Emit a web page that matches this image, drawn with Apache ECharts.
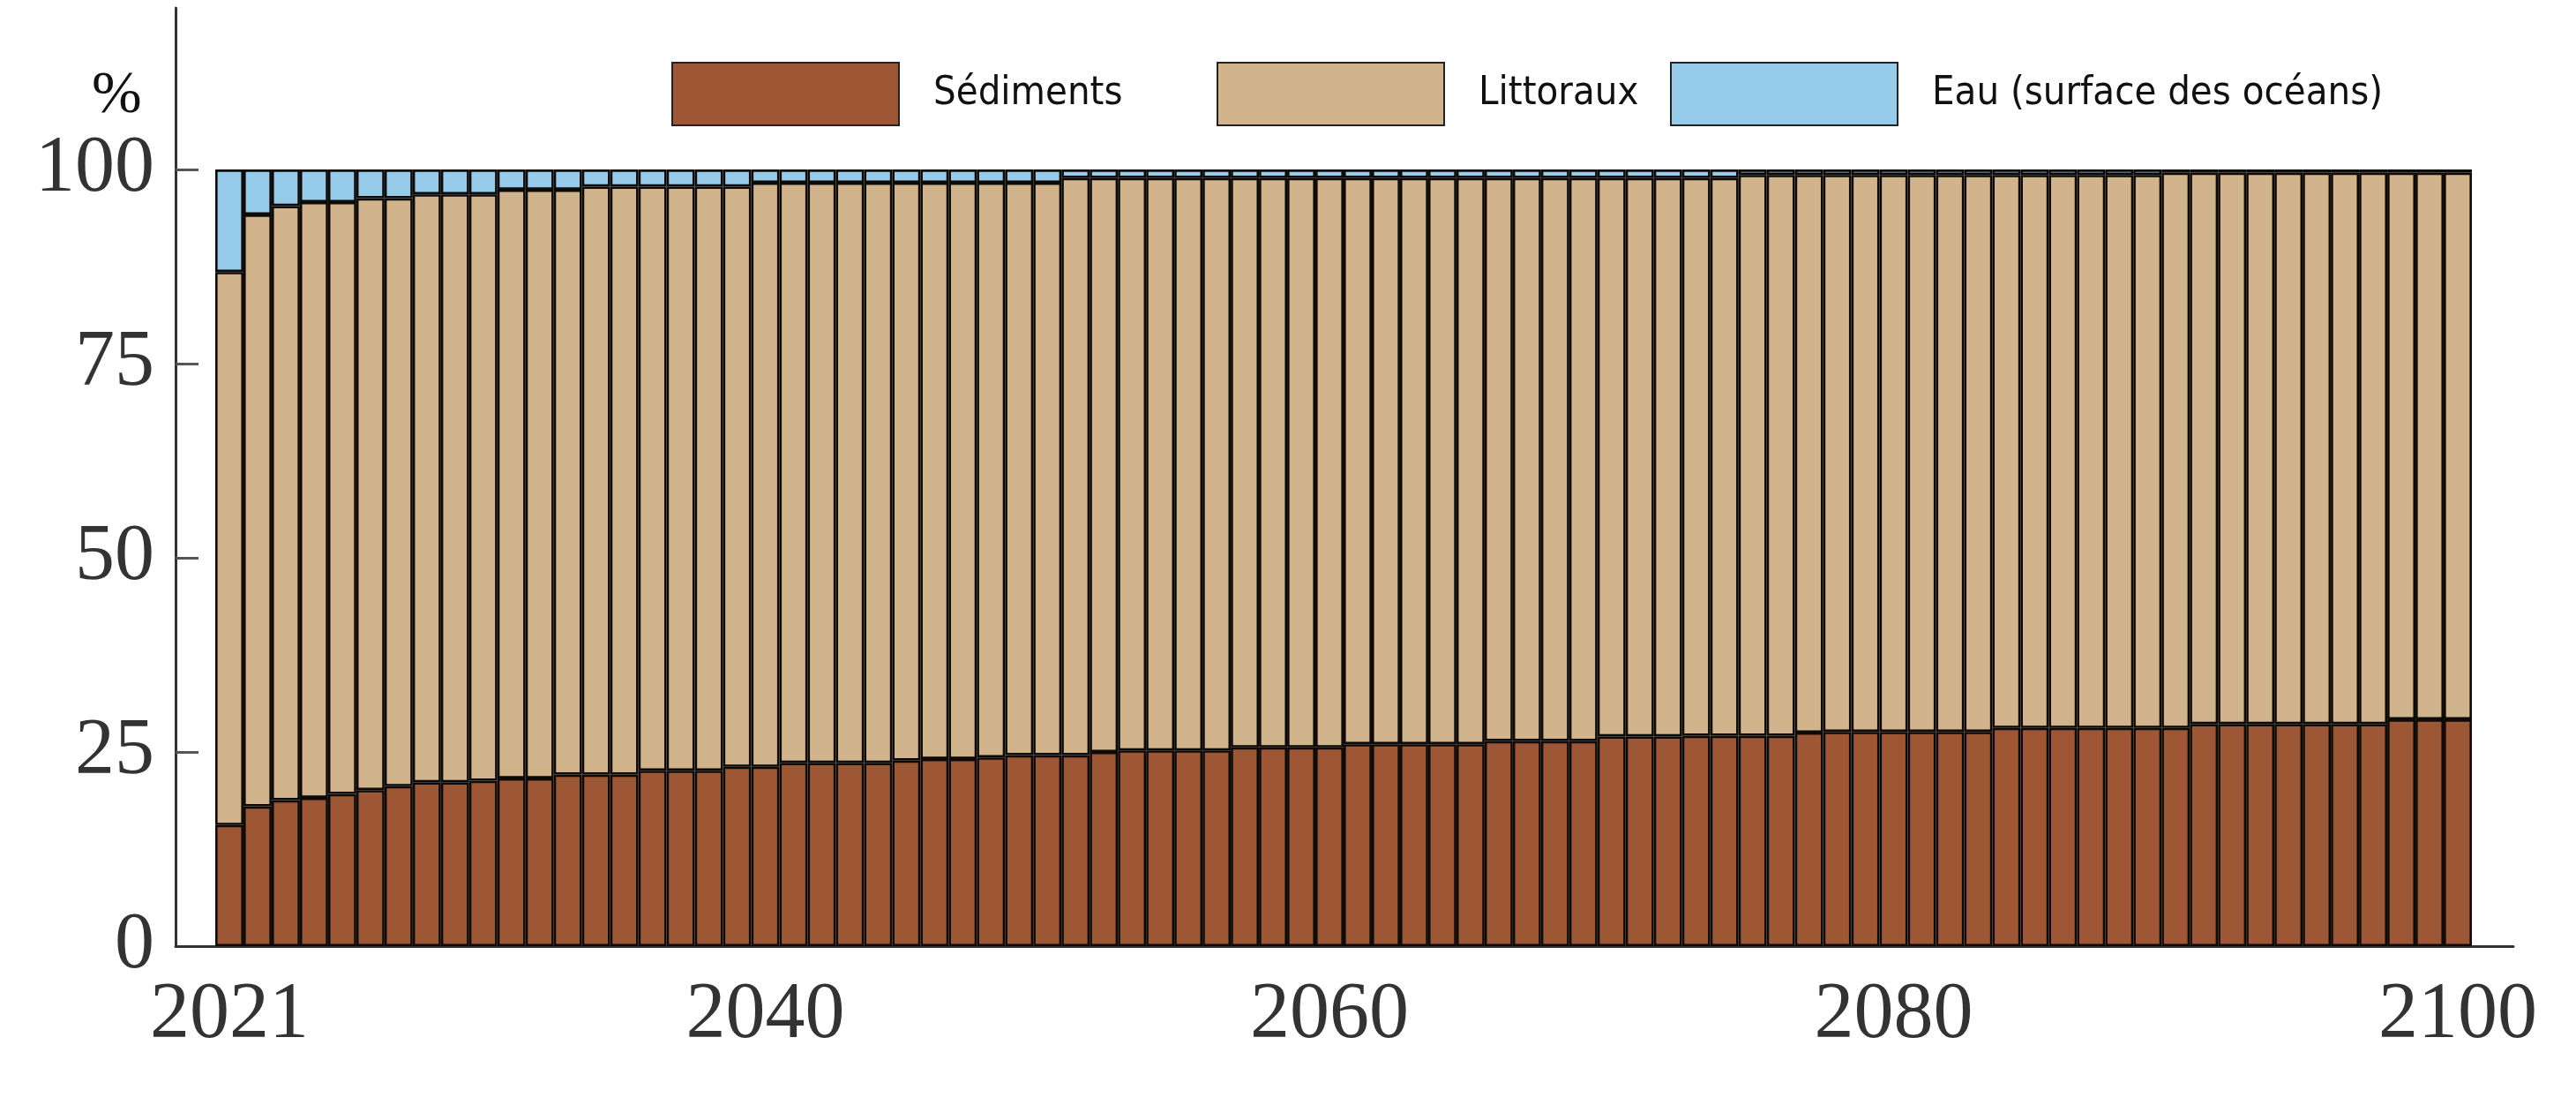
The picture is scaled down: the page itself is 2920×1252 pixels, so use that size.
<!DOCTYPE html>
<html>
<head>
<meta charset="utf-8">
<script src="https://cdn.jsdelivr.net/npm/echarts@6/dist/echarts.min.js"></script>
<style>
html,body{margin:0;padding:0;background:#fff;}
#chart{width:2920px;height:1252px;}
</style>
</head>
<body>
<div id="chart"></div>
<script>
const years = [2021,2022,2023,2024,2025,2026,2027,2028,2029,2030,
  2031,2032,2033,2034,2035,2036,2037,2038,2039,2040,
  2041,2042,2043,2044,2045,2046,2047,2048,2049,2050,
  2051,2052,2053,2054,2055,2056,2057,2058,2059,2060,
  2061,2062,2063,2064,2065,2066,2067,2068,2069,2070,
  2071,2072,2073,2074,2075,2076,2077,2078,2079,2080,
  2081,2082,2083,2084,2085,2086,2087,2088,2089,2090,
  2091,2092,2093,2094,2095,2096,2097,2098,2099,2100];

const sediments = [15.6,18.0,18.8,19.1,19.6,20.1,20.6,21.1,21.1,21.3,
  21.6,21.6,22.1,22.1,22.1,22.6,22.6,22.6,23.1,23.1,
  23.6,23.6,23.6,23.6,23.9,24.1,24.1,24.3,24.6,24.6,
  24.6,25.0,25.2,25.2,25.2,25.2,25.6,25.6,25.6,25.6,
  26.0,26.0,26.0,26.0,26.0,26.4,26.4,26.4,26.4,27.0,
  27.0,27.0,27.1,27.1,27.1,27.1,27.5,27.6,27.6,27.6,
  27.6,27.6,27.6,28.1,28.1,28.1,28.1,28.1,28.1,28.1,
  28.6,28.6,28.6,28.6,28.6,28.6,28.6,29.2,29.2,29.2];

const littoraux = [71.2,76.2,76.5,76.7,76.2,76.2,75.7,75.7,75.7,75.5,
  75.8,75.8,75.3,75.7,75.7,75.2,75.2,75.2,74.7,75.2,
  74.7,74.7,74.7,74.7,74.4,74.2,74.2,74.0,73.7,73.7,
  74.3,73.9,73.7,73.7,73.7,73.7,73.3,73.3,73.3,73.3,
  72.9,72.9,72.9,72.9,72.9,72.5,72.5,72.5,72.5,71.9,
  71.9,71.9,71.8,71.8,72.2,72.2,71.8,71.7,71.7,71.7,
  71.7,71.7,71.7,71.2,71.2,71.2,71.2,71.2,71.2,71.5,
  71.0,71.0,71.0,71.0,71.0,71.0,71.0,70.4,70.4,70.4];

const eau = [13.2,5.8,4.7,4.2,4.2,3.7,3.7,3.2,3.2,3.2,
  2.6,2.6,2.6,2.2,2.2,2.2,2.2,2.2,2.2,1.7,
  1.7,1.7,1.7,1.7,1.7,1.7,1.7,1.7,1.7,1.7,
  1.1,1.1,1.1,1.1,1.1,1.1,1.1,1.1,1.1,1.1,
  1.1,1.1,1.1,1.1,1.1,1.1,1.1,1.1,1.1,1.1,
  1.1,1.1,1.1,1.1,0.7,0.7,0.7,0.7,0.7,0.7,
  0.7,0.7,0.7,0.7,0.7,0.7,0.7,0.7,0.7,0.4,
  0.4,0.4,0.4,0.4,0.4,0.4,0.4,0.4,0.4,0.4];

const xTickLabels = [2021, 2040, 2060, 2080, 2100];
const yTickLabels = [0, 25, 50, 75, 100];
const seriesNames = ['Sédiments', 'Littoraux', 'Eau (surface des océans)'];
const seriesColors = ['#9E5735', '#D1B48C', '#97CBEA'];

const chart = echarts.init(document.getElementById('chart'));

const legendText = {
  fontFamily: "'DejaVu Sans Condensed', 'Liberation Sans Narrow', 'Open Sans', sans-serif",
  fontSize: 45, color: '#111', padding: [0, 0, 0, 34]
};
function legendAt(name, left) {
  return {
    data: [name], left: left, top: 65, orient: 'horizontal',
    icon: 'rect', itemWidth: 257, itemHeight: 71, itemGap: 0,
    selectedMode: false, textStyle: legendText,
    itemStyle: { borderColor: '#222', borderWidth: 2 }
  };
}

const allSeries = [sediments, littoraux, eau].map((vals, k) => ({
  name: seriesNames[k],
  type: 'bar',
  stack: 'total',
  xAxisIndex: 0,
  yAxisIndex: 0,
  barCategoryGap: 0,
  data: vals,
  itemStyle: { color: seriesColors[k], borderColor: '#0d0a08', borderWidth: 2.6 }
}));

const YMAX = 120.8;

chart.setOption({
  animation: false,
  backgroundColor: '#fff',
  title: {
    text: '%', left: 99, top: 70,
    textStyle: { fontFamily: "'Liberation Serif', serif", fontSize: 68, fontWeight: 'normal', color: '#111' }
  },
  legend: [
    legendAt(seriesNames[0], 756),
    legendAt(seriesNames[1], 1374),
    legendAt(seriesNames[2], 1888)
  ],
  grid: [
    { left: 244, right: 118, top: 9, bottom: 180, containLabel: false },
    { left: 199, right: 71, top: 9, bottom: 180, containLabel: false }
  ],
  xAxis: [
    {
      gridIndex: 0, type: 'category', data: years, boundaryGap: true,
      axisLine: { show: false }, axisTick: { show: false }, axisLabel: { show: false },
      splitLine: { show: false }
    },
    {
      gridIndex: 1, type: 'value', min: 2019.09, max: 2101.97,
      splitLine: { show: false },
      axisLine: { show: true, lineStyle: { color: '#333', width: 3 } },
      axisTick: { show: false },
      axisLabel: {
        customValues: xTickLabels, margin: 34,
        fontFamily: "'Liberation Serif', serif", fontSize: 90, color: '#333',
        formatter: v => String(v)
      }
    }
  ],
  yAxis: [
    {
      gridIndex: 0, type: 'value', min: 0, max: YMAX,
      axisLine: { show: false }, axisTick: { show: false }, axisLabel: { show: false },
      splitLine: { show: false }
    },
    {
      gridIndex: 1, type: 'value', min: 0, max: YMAX,
      splitLine: { show: false },
      axisLine: { show: true, lineStyle: { color: '#333', width: 3 } },
      axisTick: { show: true, inside: true, length: 26, customValues: yTickLabels.slice(1), lineStyle: { color: '#555', width: 3 } },
      axisLabel: {
        customValues: yTickLabels, margin: 24,
        fontFamily: "'Liberation Serif', serif", fontSize: 90, color: '#333'
      }
    }
  ],
  series: allSeries
});
</script>
</body>
</html>
